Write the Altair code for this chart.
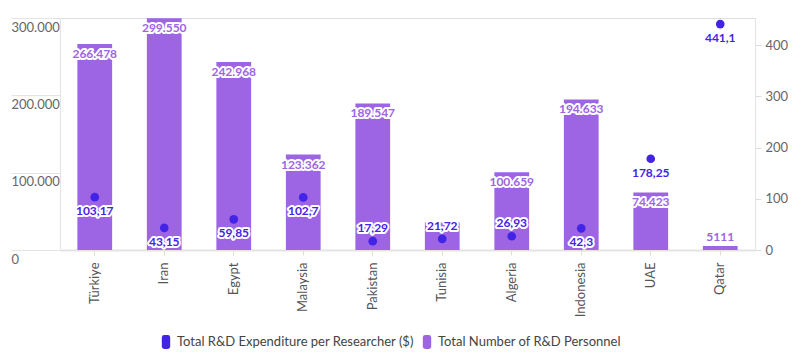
import altair as alt
import pandas as pd

countries = ["Türkiye", "Iran", "Egypt", "Malaysia", "Pakistan", "Tunisia",
             "Algeria", "Indonesia", "UAE", "Qatar"]
personnel = [266478, 299550, 242968, 123362, 189547, 35600, 100659, 194633, 74423, 5111]
expenditure = [103.17, 43.15, 59.85, 102.7, 17.29, 21.72, 26.93, 42.3, 178.25, 441.1]

S_EXP = "Total R&D Expenditure per Researcher ($)"
S_PER = "Total Number of R&D Personnel"
C_EXP = "#4224e6"
C_PER = "#9d64e4"
FONT = "Lato"


def fmt_int(v):
    s = str(v)
    return f"{v:,}".replace(",", ".") if len(s) > 4 else s


df = pd.DataFrame({
    "country": countries,
    "personnel": personnel,
    "expenditure": expenditure,
})
df["per_label"] = [fmt_int(v) for v in personnel]
df["exp_label"] = [f"{v:g}".replace(".", ",") for v in expenditure]

x_enc = alt.X(
    "country:N", sort=countries, title=None,
    scale=alt.Scale(paddingInner=0.5, paddingOuter=0.25),
    axis=alt.Axis(labelAngle=-90, labelPadding=7, tickSize=5, tickColor="#dddddd",
                  domainColor="#e3e3e3", domainWidth=2, labelColor="#555555",
                  labelFontSize=13, labelFont=FONT),
)

y_left = alt.Y(
    "personnel:Q", title=None,
    scale=alt.Scale(domain=[0, 300000], nice=False),
    axis=alt.Axis(orient="left", values=[0, 100000, 200000, 300000], grid=False,
                  tickSize=49, tickColor="#e3e3e3", domainColor="#e3e3e3",
                  labelAlign="left", labelBaseline="top", labelPadding=0, labelOffset=3,
                  labelColor="#666666", labelFontSize=13, labelFont=FONT,
                  labelExpr="replace(format(datum.value, ','), ',', '.')"),
)

y_right = alt.Y(
    "expenditure:Q", title=None,
    scale=alt.Scale(domain=[0, 453], nice=False),
    axis=alt.Axis(orient="right", values=[0, 100, 200, 300, 400], grid=False,
                  tickSize=6, tickColor="#dddddd", domainColor="#e3e3e3",
                  labelPadding=4, labelColor="#666666", labelFontSize=13, labelFont=FONT),
)

color_enc = alt.Color(
    "series:N", title=None,
    scale=alt.Scale(domain=[S_EXP, S_PER], range=[C_EXP, C_PER]),
    legend=alt.Legend(
        orient="none", direction="horizontal", legendX=99, legendY=317,
        symbolType="M-0.6,-0.65 Q-0.6,-1 -0.25,-1 L0.25,-1 Q0.6,-1 0.6,-0.65 L0.6,0.65 Q0.6,1 0.25,1 L-0.25,1 Q-0.6,1 -0.6,0.65 Z",
        symbolSize=196, symbolStrokeWidth=0, labelFontSize=13, labelColor="#444444",
        labelFont=FONT, columnPadding=6, labelOffset=4, labelLimit=0,
    ),
)

base = alt.Chart(df)

bars = base.transform_calculate(series=f"'{S_PER}'").mark_bar(opacity=1).encode(
    x=x_enc, y=y_left, color=color_enc
)

# bar labels: hidden where the point label above the point would cover them
shown = "!(datum.expenditure < 30 && datum.personnel < 50000 && datum.personnel >= 20000)"
big = f"datum.personnel >= 20000 && {shown}"
small = "datum.personnel < 20000"
txt = dict(font=FONT, fontSize=12, fontWeight="bold")

bl_halo_in = base.transform_filter(big).mark_text(
    dy=10, color="white", stroke="white", strokeWidth=4, strokeJoin="round", **txt
).encode(x=x_enc, y=y_left, text="per_label:N")
bl_in = base.transform_filter(big).mark_text(dy=10, color=C_PER, **txt).encode(
    x=x_enc, y=y_left, text="per_label:N")
bl_halo_out = base.transform_filter(small).mark_text(
    dy=-9, color="white", stroke="white", strokeWidth=4, strokeJoin="round", **txt
).encode(x=x_enc, y=y_left, text="per_label:N")
bl_out = base.transform_filter(small).mark_text(dy=-9, color=C_PER, **txt).encode(
    x=x_enc, y=y_left, text="per_label:N")

left = alt.layer(bars, bl_halo_in, bl_in, bl_halo_out, bl_out)

points = base.transform_calculate(series=f"'{S_EXP}'").mark_point(
    filled=True, size=75, opacity=1
).encode(x=x_enc, y=y_right, color=color_enc)

below = "datum.expenditure >= 30"
above = "datum.expenditure < 30"
pl_halo_b = base.transform_filter(below).mark_text(
    dy=14, color="white", stroke="white", strokeWidth=4, strokeJoin="round", **txt
).encode(x=x_enc, y=y_right, text="exp_label:N")
pl_b = base.transform_filter(below).mark_text(dy=14, color=C_EXP, **txt).encode(
    x=x_enc, y=y_right, text="exp_label:N")
pl_halo_a = base.transform_filter(above).mark_text(
    dy=-13, color="white", stroke="white", strokeWidth=4, strokeJoin="round", **txt
).encode(x=x_enc, y=y_right, text="exp_label:N")
pl_a = base.transform_filter(above).mark_text(dy=-13, color=C_EXP, **txt).encode(
    x=x_enc, y=y_right, text="exp_label:N")

right = alt.layer(points, pl_halo_b, pl_b, pl_halo_a, pl_a)

chart = alt.layer(left, right).resolve_scale(y="independent").properties(
    width=695, height=232,
    autosize=alt.AutoSizeParams(type="none"),
    padding={"left": 52, "top": 10, "right": 33, "bottom": 103},
).configure_view(stroke=None).configure(font=FONT)

chart.save("out.html", embed_options={"renderer": "svg", "actions": False})
